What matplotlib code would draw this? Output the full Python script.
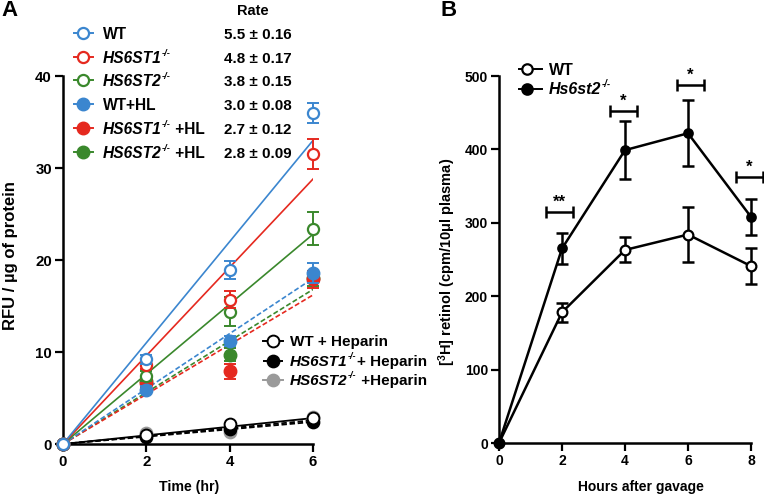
import matplotlib
matplotlib.use('Agg')
import matplotlib.pyplot as plt
from matplotlib.lines import Line2D
import numpy as np

plt.rcParams['font.family'] = ['Liberation Sans', 'DejaVu Sans']
plt.rcParams['font.weight'] = 'bold'
plt.rcParams['mathtext.fontset'] = 'custom'
plt.rcParams['mathtext.it'] = 'Liberation Sans:italic:bold'
plt.rcParams['mathtext.rm'] = 'Liberation Sans:bold'
plt.rcParams['mathtext.bf'] = 'Liberation Sans:bold'
plt.rcParams['mathtext.sf'] = 'Liberation Sans:bold'

# ---------------- Panel A data ----------------
time_a = [0, 2, 4, 6]
wt = [0, 9.2, 18.9, 36.0]
wt_err = [0, 0.5, 1.0, 1.1]
hs1 = [0, 8.6, 15.7, 31.5]
hs1_err = [0, 0.5, 0.9, 1.6]
hs2 = [0, 7.4, 14.4, 23.4]
hs2_err = [0, 0.5, 1.6, 1.8]
wt_hl = [0, 5.9, 11.2, 18.6]
wt_hl_err = [0, 0.4, 0.5, 1.1]
hs1_hl = [0, 6.6, 7.9, 17.9]
hs1_hl_err = [0, 0.4, 0.8, 0.9]
hs2_hl = [0, 6.9, 9.7, 18.0]
hs2_hl_err = [0, 0.4, 0.7, 0.8]
wt_hep = [0, 1.0, 2.2, 2.8]
hs1_hep = [0, 0.8, 1.6, 2.4]
hs2_hep = [0, 1.2, 1.3, 2.9]
rates = [5.5, 4.8, 3.8, 3.0, 2.7, 2.8]
rate_err = [0.16, 0.17, 0.15, 0.08, 0.12, 0.09]
hep_rates = [0.47, 0.40, 0.43]
# legend labels as (text, italic, superscript) pieces
SUP = ('-/-', True, True)
labels_a = [[('WT', False, False)],
            [('HS6ST1', True, False), SUP],
            [('HS6ST2', True, False), SUP],
            [('WT+HL', False, False)],
            [('HS6ST1', True, False), SUP, (' +HL', False, False)],
            [('HS6ST2', True, False), SUP, (' +HL', False, False)]]
labels_hep = [[('WT + Heparin', False, False)],
              [('HS6ST1', True, False), SUP, ('+ Heparin', False, False)],
              [('HS6ST2', True, False), SUP, (' +Heparin', False, False)]]

# ---------------- Panel B data ----------------
hours = [0, 2, 4, 6, 8]
b_wt = [0, 178, 263, 284, 241]
b_wt_err = [0, 13, 17, 38, 24]
b_hs = [0, 265, 399, 422, 308]
b_hs_err = [0, 21, 40, 45, 25]
sig_x = [1.92, 3.95, 6.07, 7.95]
sig_y = [315, 452, 488, 362]
sig_lbl = ['**', '*', '*', '*']
labels_b = [[('WT', False, False)], [('Hs6st2', True, False), SUP]]

BLUE = '#3b86cf'
RED = '#e5291f'
GREEN = '#3a882c'
GRAY = '#9a9a9a'

W, H = 764, 494
fig = plt.figure(figsize=(W / 100, H / 100), dpi=100)
renderer = fig.canvas.get_renderer()

def fx(x):
    return x / W

def fy(y):
    return 1 - y / H

axA = fig.add_axes([fx(63), fy(444), (313 - 63) / W, (444 - 76) / H])
axB = fig.add_axes([fx(499), fy(443), (751 - 499) / W, (443 - 76) / H])

for ax, ls_ in ((axA, 10.8), (axB, 10)):
    for s in ('top', 'right'):
        ax.spines[s].set_visible(False)
    for s in ('left', 'bottom'):
        ax.spines[s].set_linewidth(1.8)
    ax.tick_params(width=1.6, length=6, labelsize=ls_, pad=2)

# ---------------- Panel A ----------------
xfit = np.array([0, 6])
hep_series = [(hs2_hep, GRAY, GRAY, '--', hep_rates[2]),
              (hs1_hep, 'black', 'black', '--', hep_rates[1]),
              (wt_hep, 'black', 'white', '-', hep_rates[0])]
for vals, ec, fc, ls, r in hep_series:
    axA.plot(xfit, r * xfit, color='black', lw=1.3, ls=ls,
             dashes=(3, 1.5) if ls == '--' else (None, None), zorder=2)
for vals, ec, fc, ls, r in hep_series:
    axA.plot(time_a, vals, ls='none', marker='o', ms=8.5, mfc=fc, mec=ec, mew=1.4, zorder=3,
             clip_on=False)

series = [
    (hs2_hl, hs2_hl_err, GREEN, True, rates[5]),
    (hs1_hl, hs1_hl_err, RED, True, rates[4]),
    (wt_hl, wt_hl_err, BLUE, True, rates[3]),
    (hs2, hs2_err, GREEN, False, rates[2]),
    (hs1, hs1_err, RED, False, rates[1]),
    (wt, wt_err, BLUE, False, rates[0]),
]
for vals, err, c, filled, r in series:
    if filled:
        axA.plot(xfit, r * xfit, color=c, lw=1.2, ls='--', dashes=(3, 1.5), zorder=4)
    else:
        axA.plot(xfit, r * xfit, color=c, lw=1.2, ls='-', zorder=4)
for i, (vals, err, c, filled, r) in enumerate(series):
    axA.errorbar(time_a[1:], vals[1:], yerr=err[1:], fmt='none', ecolor=c, elinewidth=1.4,
                 capsize=4.3, capthick=1.4, zorder=5 + i, clip_on=False)
    axA.plot(time_a, vals, ls='none', marker='o', ms=9 if filled else 8,
             mfc=c if filled else 'white', mec=c, mew=1.0 if filled else 1.6,
             zorder=5 + i, clip_on=False)

axA.set_xlim(0, 6)
axA.set_ylim(0, 40)
axA.set_xticks([0, 2, 4, 6])
axA.set_yticks([0, 10, 20, 30, 40])

# ---------------- Panel B ----------------
axB.errorbar(hours[1:], b_wt[1:], yerr=b_wt_err[1:], fmt='none', ecolor='black', elinewidth=1.8,
             capsize=4.3, capthick=1.8, zorder=3, clip_on=False)
axB.errorbar(hours[1:], b_hs[1:], yerr=b_hs_err[1:], fmt='none', ecolor='black', elinewidth=1.8,
             capsize=4.3, capthick=1.8, zorder=3, clip_on=False)
axB.plot(hours, b_wt, color='black', lw=1.8, marker='o', ms=7, mfc='white', mec='black', mew=1.6,
         zorder=4, clip_on=False)
axB.plot(hours, b_hs, color='black', lw=1.8, marker='o', ms=6.5, mfc='black', mec='black', mew=1.2,
         zorder=5, clip_on=False)
axB.errorbar(sig_x, sig_y, xerr=0.43, fmt='none', ecolor='black', elinewidth=1.8, capsize=4.5,
             capthick=1.8, clip_on=False)
for x, y, s in zip(sig_x, sig_y, sig_lbl):
    axB.annotate(s, (x, y), xytext=(0, 1.5), textcoords='offset points', ha='center', va='bottom',
                 fontsize=12, fontweight='bold', annotation_clip=False)
axB.set_xlim(0, 8)
axB.set_ylim(0, 500)
axB.set_xticks([0, 2, 4, 6, 8])
axB.set_yticks([0, 100, 200, 300, 400, 500])

for ax in (axA, axB):
    for lab in ax.get_xticklabels() + ax.get_yticklabels():
        lab.set_fontweight('bold')

# ---------------- legends (manual) ----------------
def rich_text(xpx, ycenter, parts, fs):
    base = ycenter + 0.36 * fs * 100 / 72
    x = xpx
    for s, italic, sup in parts:
        size = fs * 0.6 if sup else fs
        yy = base - (0.45 * fs * 100 / 72 if sup else 0)
        t = fig.text(fx(x), fy(yy), s, fontsize=size, fontweight='bold',
                     fontstyle='italic' if italic else 'normal', ha='left', va='baseline')
        bb = t.get_window_extent(renderer)
        x += bb.width + (0.5 if sup else 0)

def legend_entry(xm, y, x0, x1, tx, color, ec, fc, ls, parts, ms, mew, fs=11):
    fig.add_artist(Line2D([fx(x0), fx(x1)], [fy(y), fy(y)], color=color, lw=1.4, ls=ls,
                          dashes=(2.5, 1.5) if ls == '--' else (None, None)))
    fig.add_artist(Line2D([fx(xm)], [fy(y)], ls='none', marker='o', ms=ms, mfc=fc, mec=ec, mew=mew))
    rich_text(tx, y, parts, fs)

leg_colors = [BLUE, RED, GREEN, BLUE, RED, GREEN]
leg_filled = [False, False, False, True, True, True]
leg_rows = [33, 57, 80, 104, 128, 152]
for c, f, y, t in zip(leg_colors, leg_filled, leg_rows, labels_a):
    legend_entry(83, y + 0.5, 74, 93, 103, c, c, c if f else 'white', '-', t,
                 9 if f else 8, 1.0 if f else 1.6, fs=11.2)
fig.text(fx(253), fy(9.5), 'Rate', ha='center', va='center_baseline', fontsize=10.5, fontweight='bold')
for y, r, e in zip(leg_rows, rates, rate_err):
    fig.text(fx(224), fy(y + 0.5), f'{r:.1f} \u00b1 {e:.2f}', ha='left', va='center_baseline',
             fontsize=10.9, fontweight='bold')

hep_rows = [340, 360, 379]
hep_leg = [('black', 'white', '-'), ('black', 'black', '--'), (GRAY, GRAY, '-')]
for (ec, fc, ls), y, t in zip(hep_leg, hep_rows, labels_hep):
    legend_entry(273, y + 0.5, 263, 283, 290, ec, ec, fc, ls, t, 8.5, 1.4, fs=11.0)

b_rows = [69, 88]
b_leg = [('black', 'white'), ('black', 'black')]
for (ec, fc), y, t in zip(b_leg, b_rows, labels_b):
    legend_entry(527, y + 0.5, 519, 542, 549, 'black', ec, fc, '-', t, 7.5, 1.6, fs=11.5)

# ---------------- labels ----------------
fig.text(fx(11), fy(256), 'RFU / \u00b5g of protein', rotation=90, ha='center', va='center',
         fontsize=12, fontweight='bold')
fig.text(fx(189), fy(487), 'Time (hr)', ha='center', va='center', fontsize=10.2, fontweight='bold')
fig.text(fx(447), fy(262), '[$^{3}$H] retinol (cpm/10\u03bcl plasma)',
         rotation=90, ha='center', va='center', fontsize=10.5, fontweight='bold')
fig.text(fx(641), fy(487), 'Hours after gavage', ha='center', va='center', fontsize=10,
         fontweight='bold')
fig.text(fx(9), fy(10), 'A', ha='center', va='center', fontsize=16, fontweight='bold')
fig.text(fx(449), fy(11), 'B', ha='center', va='center', fontsize=16, fontweight='bold')

fig.savefig('out.png', dpi=100)
